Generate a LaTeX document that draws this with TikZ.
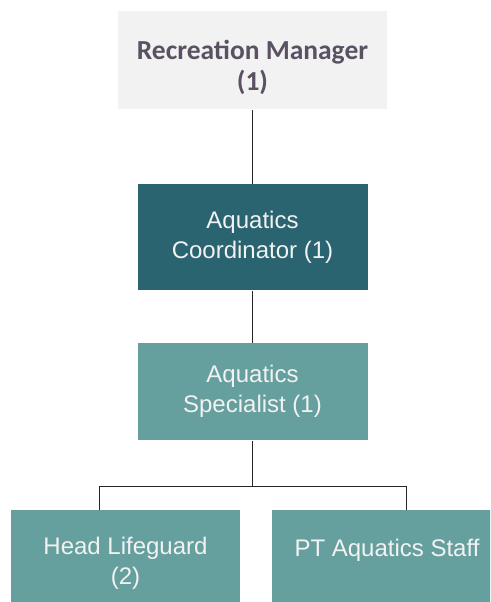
\documentclass[tikz,border=0pt]{standalone}
\usepackage{fontspec}
\setmainfont{Liberation Sans}
\newfontfamily\headfont{Carlito}
\definecolor{mgrfill}{HTML}{F2F2F2}
\definecolor{mgrtext}{HTML}{5A5262}
\definecolor{coordfill}{HTML}{296470}
\definecolor{specfill}{HTML}{66A09E}
\definecolor{boxtext}{HTML}{F2F2F2}
\tikzstyle{mgrbox}=[rectangle, fill=mgrfill, text=mgrtext, minimum width=269pt, minimum height=98pt, align=center, font=\headfont\bfseries\fontsize{27.5}{31}\selectfont]
\tikzstyle{staff}=[rectangle, text=boxtext, minimum width=230pt, minimum height=106pt, align=center, font=\fontsize{24}{30}\selectfont]

\begin{document}
\begin{tikzpicture}[x=1pt, y=-1pt, line width=1pt]
                    \clip (0,0) rectangle (490,602);
                    \node[mgrbox] (mgr) at (252.5, 60) {\rule{0pt}{34pt}Recreation Manager\\(1)};
                    \node[staff, fill=coordfill] (coord) at (252.5, 237) {Aquatics\\Coordinator (1)};
                    \node[staff, fill=specfill, minimum height=97pt] (spec) at (252.5, 391.5) {Aquatics\\Specialist (1)};
                    \node[staff, fill=specfill, minimum width=229pt] (head) at (125.5, 563) {Head Lifeguard\\(2)};
                    \node[staff, fill=specfill] (ptstaff) at (387, 563) {PT Aquatics Staff\\\mbox{}};
                    \coordinate (fork) at (252.5, 486);
                    \coordinate (hl) at (99, 486);
                    \coordinate (pt) at (406, 486);
                    \draw[black!85] (mgr)--(coord) (coord)--(spec) (spec)--(fork);
                    \draw[black!85] (hl |- head.north)--(hl)--(pt)--(pt |- ptstaff.north);
                \end{tikzpicture}
\end{document}
